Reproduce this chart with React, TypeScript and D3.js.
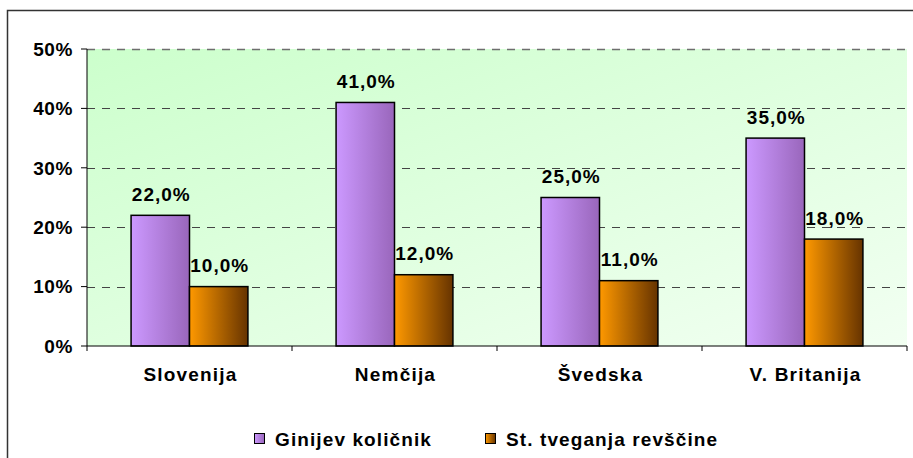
import * as d3 from 'd3';

const categories = ['Slovenija', 'Nemčija', 'Švedska', 'V. Britanija'];
const seriesNames = ['Ginijev količnik', 'St. tveganja revščine'];
const gini = [22, 41, 25, 35];
const poverty = [10, 12, 11, 18];
const yTicks = [0, 10, 20, 30, 40, 50];

const W = 913;
const H = 458;
const left = 87;
const right = 907;
const top = 49;
const bottom = 346;

const font = '"Liberation Sans", Arial, sans-serif';

const App = () => {
  const y = d3.scaleLinear().domain([0, 50]).range([bottom, top]);
  const x0 = d3
    .scaleBand<string>()
    .domain(categories)
    .range([left, right])
    .paddingInner(0.43)
    .paddingOuter(0.215);
  const x1 = d3
    .scaleBand<string>()
    .domain(seriesNames)
    .range([0, x0.bandwidth()]);
  const step = x0.step();

  // category boundaries for the x tick marks
  const boundaries = categories.map((_, i) => left + i * step).concat([right]);

  const series = [
    { name: seriesNames[0], values: gini, fill: 'url(#gPurple)' },
    { name: seriesNames[1], values: poverty, fill: 'url(#gOrange)' },
  ];

  const fmt = (v: number) => v.toFixed(1).replace('.', ',') + '%';

  return (
    <svg
      width={W}
      height={H}
      style={{ position: 'absolute', left: 0, top: 0 }}
      fontFamily={font}
      fontWeight='bold'
    >
      <defs>
        <linearGradient id='gBg' x1='0' y1='0' x2='1' y2='1'>
          <stop offset='0%' stopColor='#ccffcc' />
          <stop offset='100%' stopColor='#f2fff2' />
        </linearGradient>
        <linearGradient id='gPurple' x1='0' y1='0' x2='1' y2='0'>
          <stop offset='0%' stopColor='#cc99ff' />
          <stop offset='100%' stopColor='#9966bb' />
        </linearGradient>
        <linearGradient id='gOrange' x1='0' y1='0' x2='1' y2='0'>
          <stop offset='0%' stopColor='#ff9900' />
          <stop offset='100%' stopColor='#663300' />
        </linearGradient>
      </defs>

      <rect x={0} y={0} width={W} height={H} fill='#ffffff' />
      {/* chart border */}
      <path d={`M7.5,${H} V10.5 H${W}`} fill='none' stroke='#333333' strokeWidth={1.5} />

      {/* plot area */}
      <rect x={left} y={top} width={right - left} height={bottom - top} fill='url(#gBg)' />

      {/* gridlines */}
      {yTicks
        .filter((t) => t > 0)
        .map((t) => (
          <line
            key={t}
            x1={left}
            x2={right}
            y1={Math.round(y(t)) + 0.5}
            y2={Math.round(y(t)) + 0.5}
            stroke={t === 50 ? '#6e6e6e' : '#444444'}
            strokeWidth={t === 50 ? 1.5 : 1}
            strokeDasharray='8,7'
          />
        ))}

      {/* bars */}
      {series.map((s) =>
        categories.map((c, i) => {
          const bx = (x0(c) || 0) + (x1(s.name) || 0);
          const by = y(s.values[i]);
          return (
            <g key={s.name + c}>
              <rect
                x={bx}
                y={by}
                width={x1.bandwidth()}
                height={bottom - by}
                fill={s.fill}
                stroke='#000000'
                strokeWidth={1.5}
              />
              <text
                x={bx + x1.bandwidth() / 2 + 1}
                y={by - 14.5}
                textAnchor='middle'
                fontSize={19}
                letterSpacing={1}
                fill='#000000'
              >
                {fmt(s.values[i])}
              </text>
            </g>
          );
        })
      )}

      {/* y axis */}
      <line x1={left} x2={left} y1={top} y2={bottom} stroke='#000000' strokeWidth={1} />
      {yTicks.map((t) => (
        <g key={t}>
          <line x1={left - 6} x2={left} y1={y(t)} y2={y(t)} stroke='#000000' />
          <text
            x={73}
            y={y(t)}
            dy='0.36em'
            textAnchor='end'
            fontSize={19}
            letterSpacing={0.6}
            fill='#000000'
          >
            {t}%
          </text>
        </g>
      ))}

      {/* x axis */}
      <line x1={left} x2={right} y1={bottom} y2={bottom} stroke='#000000' strokeWidth={1} />
      {boundaries.map((b, i) => (
        <line key={i} x1={b} x2={b} y1={bottom} y2={bottom + 5} stroke='#000000' />
      ))}
      {categories.map((c) => (
        <text
          key={c}
          x={(x0(c) || 0) + x0.bandwidth() / 2 + 1}
          y={381}
          textAnchor='middle'
          fontSize={19}
          letterSpacing={1.2}
          fill='#000000'
        >
          {c}
        </text>
      ))}

      {/* legend */}
      {series.map((s, i) => {
        const lx = i === 0 ? 254 : 485;
        return (
          <g key={s.name}>
            <rect x={lx + 0.5} y={433.5} width={10} height={10} fill={s.fill} stroke='#000000' />
            <text x={lx + 21} y={446} fontSize={19} letterSpacing={1.1} fill='#000000'>
              {s.name}
            </text>
          </g>
        );
      })}
    </svg>
  );
};

export default App;
